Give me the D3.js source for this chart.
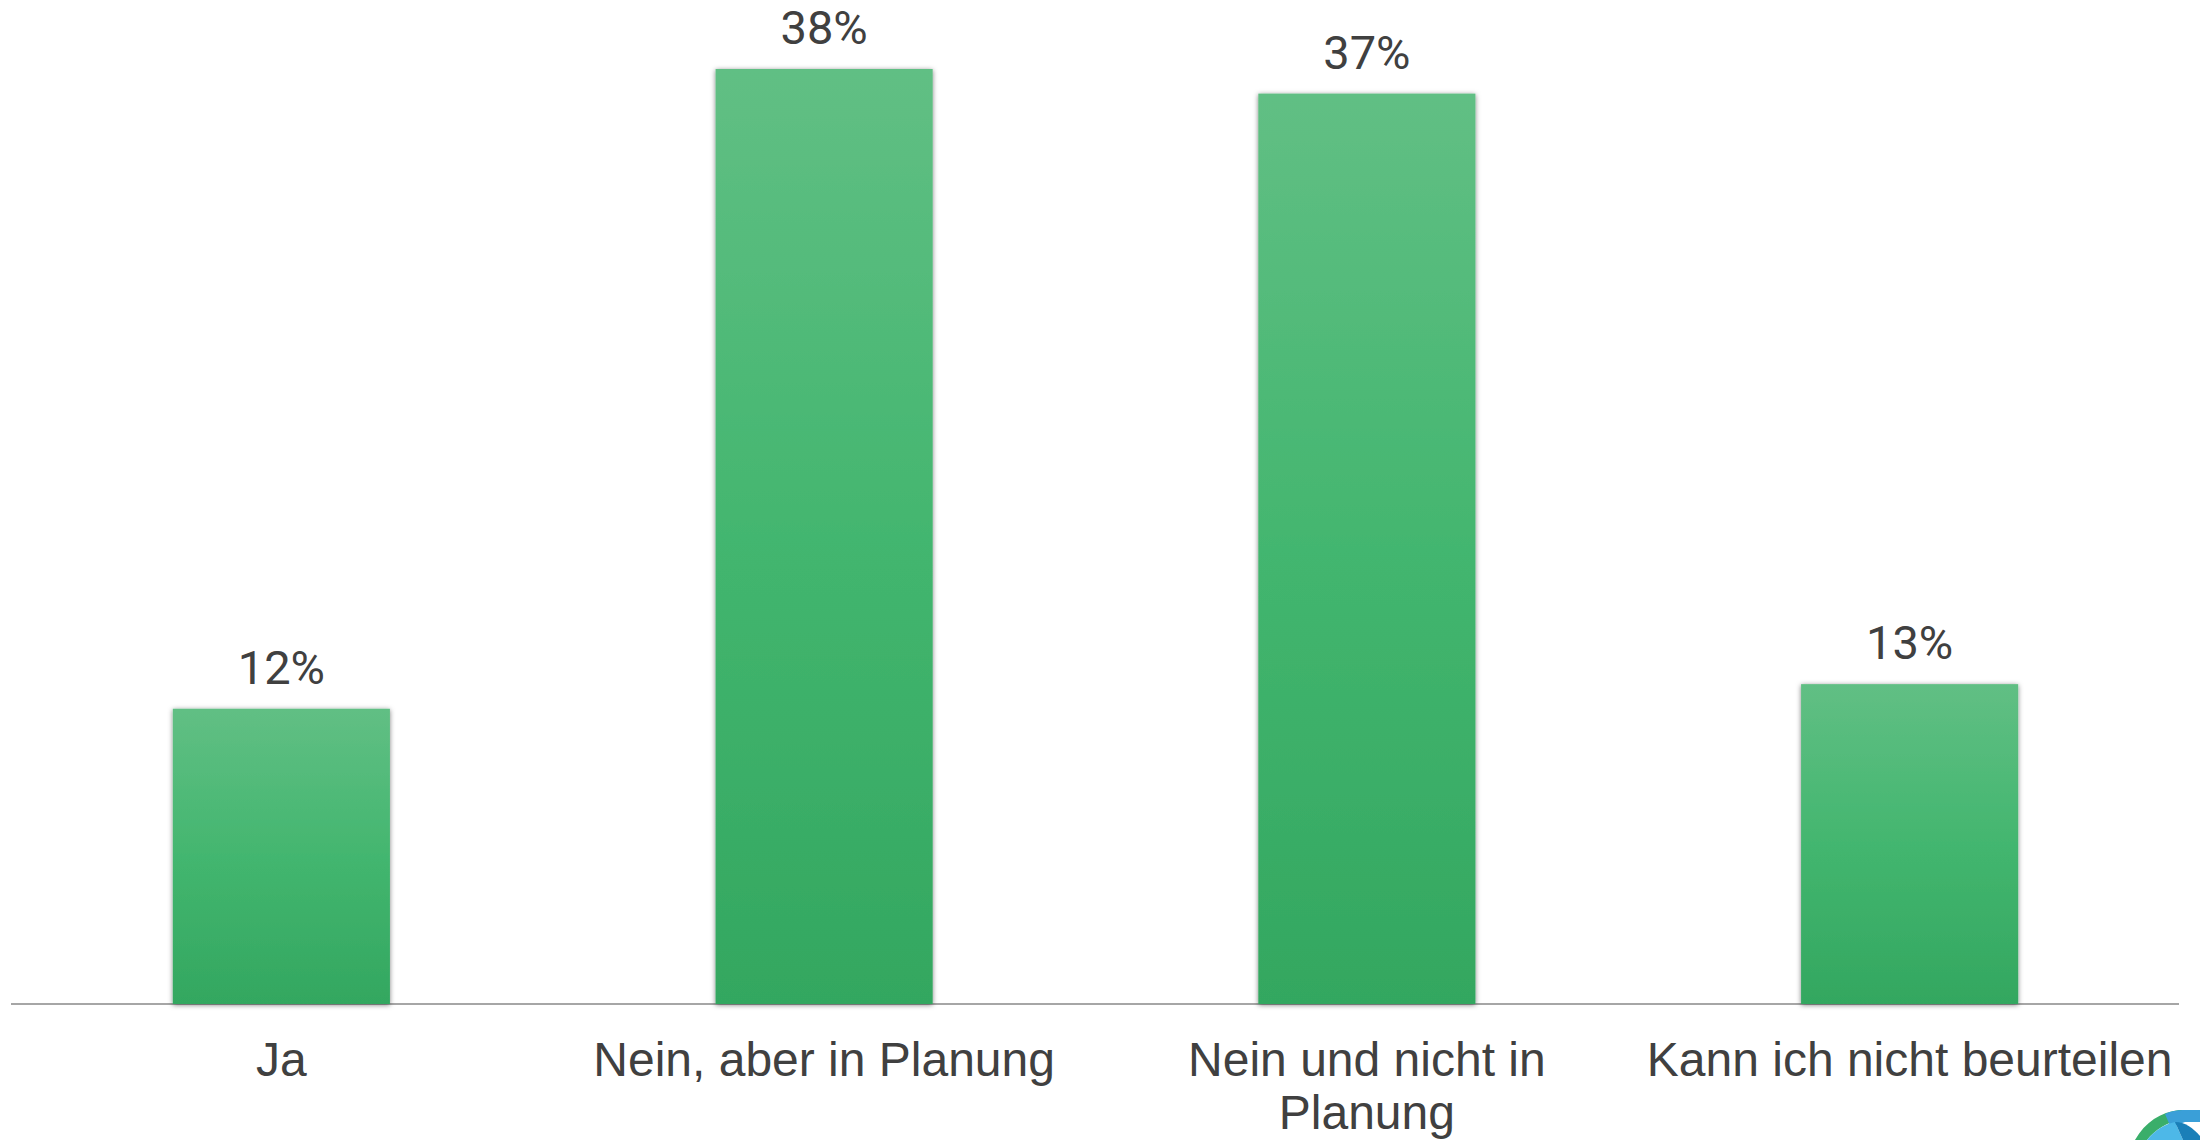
<!DOCTYPE html>
<html>
<head>
<meta charset="utf-8">
<title></title>
<style>
  body { margin: 0; background: #fff; }
</style>
</head>
<body>

<svg id='chart' xmlns="http://www.w3.org/2000/svg"></svg>

<script type="text/javascript" src="https://d3js.org/d3.v7.min.js"></script>
<script type="text/javascript">

const width = 2200;
const height = 1140;

const categories = ["Ja", "Nein, aber in Planung", "Nein und nicht in Planung", "Kann ich nicht beurteilen"];
const values = [12, 38, 37, 13];
const valueLabels = ["12%", "38%", "37%", "13%"];

const baseY = 1004;

const svg = d3.select('#chart')
    .attr("width", width)
    .attr("height", height)
    .attr("viewBox", `0 0 ${width} ${height}`);

const defs = svg.append("defs");

const grad = defs.append("linearGradient")
    .attr("id", "barGrad")
    .attr("x1", 0).attr("y1", 0)
    .attr("x2", 0).attr("y2", 1);
grad.append("stop").attr("offset", "0%").attr("stop-color", "#61bf84");
grad.append("stop").attr("offset", "50%").attr("stop-color", "#43b66f");
grad.append("stop").attr("offset", "100%").attr("stop-color", "#33a760");

const shadow = defs.append("filter")
    .attr("id", "shadow")
    .attr("x", "-10%").attr("y", "-10%")
    .attr("width", "120%").attr("height", "120%");
shadow.append("feDropShadow")
    .attr("dx", 0)
    .attr("dy", 1)
    .attr("stdDeviation", 2.5)
    .attr("flood-color", "#000")
    .attr("flood-opacity", 0.5);

const x = d3.scaleBand()
    .domain(categories)
    .range([10, 2181])
    .paddingInner(0.6)
    .paddingOuter(0.3);

const y = d3.scaleLinear()
    .domain([0, 38])
    .range([baseY, 69]);

// baseline
svg.append("line")
    .attr("x1", 11)
    .attr("x2", 2179)
    .attr("y1", baseY)
    .attr("y2", baseY)
    .attr("stroke", "#a6a6a6")
    .attr("stroke-width", 2);

const data = categories.map((c, i) => ({cat: c, value: values[i], label: valueLabels[i]}));

svg.append("g")
    .selectAll("rect")
    .data(data)
    .join("rect")
      .attr("x", d => x(d.cat))
      .attr("y", d => y(d.value))
      .attr("width", x.bandwidth())
      .attr("height", d => baseY - y(d.value))
      .attr("fill", "url(#barGrad)")
      .attr("filter", "url(#shadow)");

svg.append("g")
    .style("font", "47px Roboto, sans-serif")
    .attr("fill", "#404040")
    .attr("text-anchor", "middle")
  .selectAll("text")
  .data(data)
  .join("text")
    .attr("x", d => x(d.cat) + x.bandwidth() / 2)
    .attr("y", d => y(d.value) - 25)
    .text(d => d.label);

// category labels, wrapped to the band step
const catText = svg.append("g")
    .style("font", "48px 'Liberation Sans', Arial, sans-serif")
    .attr("fill", "#404040")
    .attr("text-anchor", "middle")
  .selectAll("text")
  .data(data)
  .join("text")
    .attr("x", d => x(d.cat) + x.bandwidth() / 2)
    .attr("y", 1076);

catText.each(function(d) {
  const t = d3.select(this);
  const words = d.cat.split(" ");
  const maxW = x.step() - 10;
  let line = [];
  let tspan = t.append("tspan").attr("x", t.attr("x")).attr("dy", 0);
  words.forEach(w => {
    line.push(w);
    tspan.text(line.join(" "));
    if (tspan.node().getComputedTextLength() > maxW && line.length > 1) {
      line.pop();
      tspan.text(line.join(" "));
      line = [w];
      tspan = t.append("tspan").attr("x", t.attr("x")).attr("dy", 53).text(w);
    }
  });
});

// logo corner (partly cut off)
const logo = svg.append("g").attr("transform", "translate(2135,1108)");
logo.append("path")
    .attr("d", "M0,32 C10,14 26,4 44,2 L65,2 L65,12 L46,12 C32,14 20,22 12,32 Z")
    .attr("fill", "#3aae6a");
logo.append("path")
    .attr("d", "M30,6 C36,3 42,2 48,2 L65,2 L65,14 L50,14 C44,16 40,18 36,20 Z")
    .attr("fill", "#3a9fd8");
logo.append("path")
    .attr("d", "M12,32 C20,22 30,16 40,14 L48,32 Z")
    .attr("fill", "#4db8e8");
logo.append("path")
    .attr("d", "M40,14 C50,14 58,20 65,28 L65,32 L48,32 Z")
    .attr("fill", "#1a7fb8");

</script>
</body>
</html>
